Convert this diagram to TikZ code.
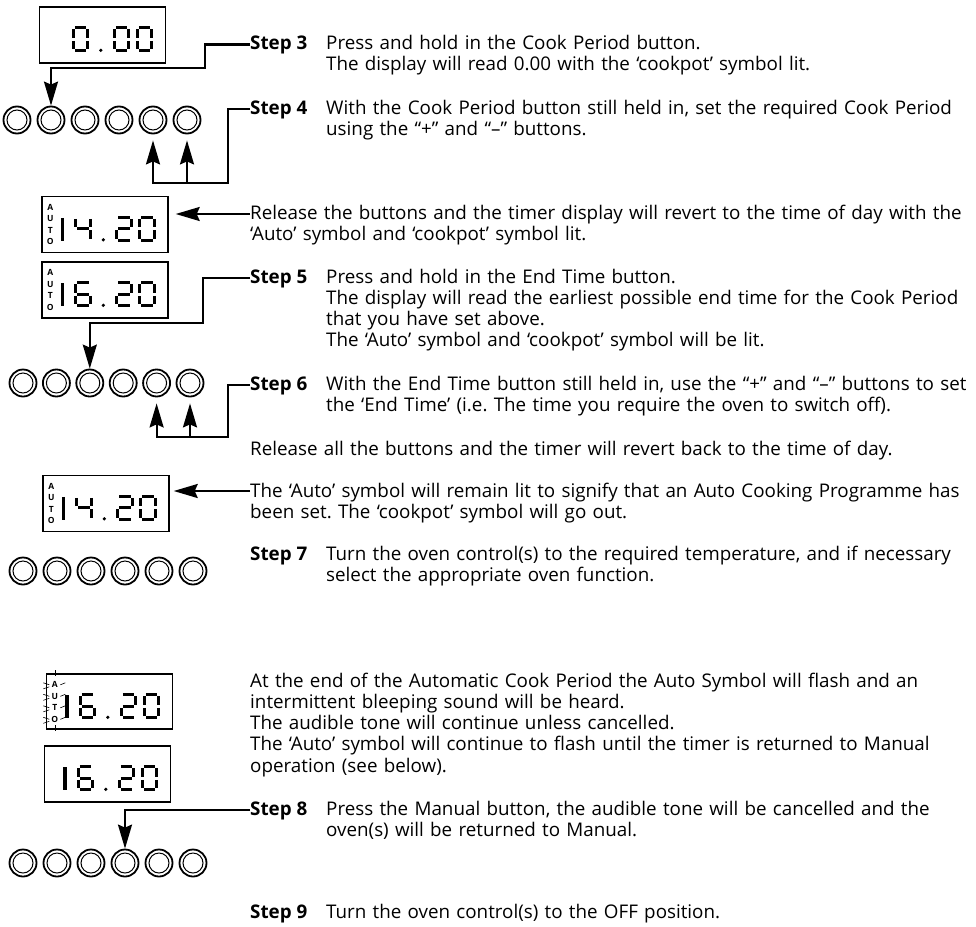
\documentclass[tikz,border=0pt]{standalone}
\usepackage{fontspec}
\setmainfont{Open Sans}
\usetikzlibrary{arrows.meta}
\frenchspacing

\newcommand\txtsize{\fontsize{18.8}{21.3}\selectfont}
\newcommand\lcddigit[1]{%
  \foreach \s in {#1}{%
    \if a\s\draw[seg] (3,1.5) -- (14.5,1.5);\fi
    \if b\s\draw[seg] (16,3) -- (16,11.5);\fi
    \if c\s\draw[seg] (16,14.5) -- (16,23);\fi
    \if d\s\draw[seg] (3,24.5) -- (14.5,24.5);\fi
    \if e\s\draw[seg] (1.5,14.5) -- (1.5,23);\fi
    \if f\s\draw[seg] (1.5,3) -- (1.5,11.5);\fi
    \if g\s\draw[seg] (3,13) -- (14.5,13);\fi
  }}
\newcommand\lcdcell[3]{\begin{scope}[shift={(#1.north west)},shift={(#2,20)}]\lcddigit{#3}\end{scope}}
\newcommand\lcdone[1]{\draw[seg,line width=3.5pt] ([shift={(21,22)}]#1.north west) -- ++(0,23);}
\newcommand\lcddot[1]{\fill ([shift={(62,44)}]#1.north west) circle (1.8pt);}
\newcommand\autolbl[1]{\foreach \l [count=\k] in {A,U,T,O}
  \node[autotxt] (#1\l) at ([shift={(9,11.5*\k)}]#1.north west) {\l};}

\tikzset{
  conn/.style={line width=2.2pt},
  tip/.style={-{Stealth[length=24pt,width=14pt,inset=3pt]}},
  lcd/.style={draw, line width=1.4pt, minimum width=126pt, minimum height=56pt, inner sep=0pt},
  btn/.style={circle, draw, line width=1.8pt, minimum size=27pt, inner sep=0pt,
    path picture={\draw[line width=1pt] (path picture bounding box.center) circle (10pt);}},
  seg/.style={line width=3.2pt},
  ray/.style={line width=0.6pt},
  autotxt/.style={font=\fontsize{8.5}{8.5}\selectfont\bfseries, inner sep=0pt},
  steplbl/.style={font=\txtsize\bfseries, inner sep=0pt, anchor=base west},
  body/.style={font=\txtsize, inner sep=0pt, anchor=base west, align=left, text width=730pt},
}

\begin{document}
\begin{tikzpicture}[x=1pt,y=-1pt]
    \useasboundingbox (0,0) rectangle (976,926);

    \node[lcd] (d1) at (102.5,35) {};
    \node[lcd] (d2) at (105,224.5) {};
    \node[lcd] (d3) at (105,290) {};
    \node[lcd] (d4) at (106,503.5) {};
    \node[lcd, minimum height=55pt] (d5) at (109.5,701.5) {};
    \node[lcd] (d6) at (107.5,774) {};

    \lcdcell{d1}{33}{a,b,c,d,e,f} \lcddot{d1}
    \lcdcell{d1}{74}{a,b,c,d,e,f} \lcdcell{d1}{97}{a,b,c,d,e,f}

    \autolbl{d2} \lcdone{d2} \lcdcell{d2}{33}{f,g,b,c} \lcddot{d2}
    \lcdcell{d2}{74}{a,b,g,e,d} \lcdcell{d2}{97}{a,b,c,d,e,f}

    \autolbl{d3} \lcdone{d3} \lcdcell{d3}{33}{a,f,g,e,d,c} \lcddot{d3}
    \lcdcell{d3}{74}{a,b,g,e,d} \lcdcell{d3}{97}{a,b,c,d,e,f}

    \autolbl{d4} \lcdone{d4} \lcdcell{d4}{33}{f,g,b,c} \lcddot{d4}
    \lcdcell{d4}{74}{a,b,g,e,d} \lcdcell{d4}{97}{a,b,c,d,e,f}

    \autolbl{d5} \lcdone{d5} \lcdcell{d5}{33}{a,f,g,e,d,c} \lcddot{d5}
    \lcdcell{d5}{74}{a,b,g,e,d} \lcdcell{d5}{97}{a,b,c,d,e,f}
    \foreach \k in {1,2,3,4} {
        \draw[ray] ([shift={(3.5,11.5*\k)}]d5.north west) -- ++(-6,-2);
        \draw[ray] ([shift={(3.5,11.5*\k+2)}]d5.north west) -- ++(-6,2);
        \draw[ray] ([shift={(14.5,11.5*\k)}]d5.north west) -- ++(5,-2);
    }
    \draw[ray] ([shift={(9,-3)}]d5.north west) -- ++(0,6);
    \draw[ray] ([shift={(9,52)}]d5.north west) -- ++(0,6);

    \lcdone{d6} \lcdcell{d6}{33}{a,f,g,e,d,c} \lcddot{d6}
    \lcdcell{d6}{74}{a,b,g,e,d} \lcdcell{d6}{97}{a,b,c,d,e,f}

    \foreach \i in {1,...,6} {
        \node[btn] (b1\i) at ({17+34*(\i-1)},120) {};
        \node[btn] (b2\i) at ({23+33.4*(\i-1)},383) {};
        \node[btn] (b3\i) at ({23+34*(\i-1)},571) {};
        \node[btn] (b4\i) at ({23+34*(\i-1)},863) {};
    }

    \node[steplbl] (s3) at (250,49.5) {Step 3};
    \node[body] (t3) at (326,49.5) {Press and hold in the Cook Period button.\\
        The display will read 0.00 with the ‘cookpot’ symbol lit.};
    \node[steplbl] (s4) at (250,114) {Step 4};
    \node[body] (t4) at (326,114) {With the Cook Period button still held in, set the required Cook Period\\
        using the “+” and “–” buttons.};
    \node[body] (r1) at (250,219) {Release the buttons and the timer display will revert to the time of day with the\\
        ‘Auto’ symbol and ‘cookpot’ symbol lit.};
    \node[steplbl] (s5) at (250,283) {Step 5};
    \node[body] (t5) at (326,283) {Press and hold in the End Time button.\\
        The display will read the earliest possible end time for the Cook Period\\
        that you have set above.\\
        The ‘Auto’ symbol and ‘cookpot’ symbol will be lit.};
    \node[steplbl] (s6) at (250,390) {Step 6};
    \node[body] (t6) at (326,390) {With the End Time button still held in, use the “+” and “–” buttons to set\\
        the ‘End Time’ (i.e. The time you require the oven to switch off).};
    \node[body] (r2) at (250,455) {Release all the buttons and the timer will revert back to the time of day.};
    \node[body] (r3) at (250,497) {The ‘Auto’ symbol will remain lit to signify that an Auto Cooking Programme has\\
        been set. The ‘cookpot’ symbol will go out.};
    \node[steplbl] (s7) at (250,560) {Step 7};
    \node[body] (t7) at (326,560) {Turn the oven control(s) to the required temperature, and if necessary\\
        select the appropriate oven function.};
    \node[body] (r4) at (250,687) {At the end of the Automatic Cook Period the Auto Symbol will flash and an\\
        intermittent bleeping sound will be heard.\\
        The audible tone will continue unless cancelled.\\
        The ‘Auto’ symbol will continue to flash until the timer is returned to Manual\\
        operation (see below).};
    \node[steplbl] (s8) at (250,815) {Step 8};
    \node[body] (t8) at (326,815) {Press the Manual button, the audible tone will be cancelled and the\\
        oven(s) will be returned to Manual.};
    \node[steplbl] (s9) at (250,918) {Step 9};
    \node[body] (t9) at (326,918) {Turn the oven control(s) to the OFF position.};

    \coordinate (k3) at (205,68);
    \coordinate (k4) at (228,183);
    \coordinate (k5) at (203,323);
    \coordinate (k6) at (228,437);
    \coordinate (e3) at ([yshift=5pt]s3.base west);
    \coordinate (e4) at ([yshift=5pt]s4.base west);
    \coordinate (e5) at ([yshift=5pt]s5.base west);
    \coordinate (e6) at ([yshift=5pt]s6.base west);
    \coordinate (e8) at ([yshift=5pt]s8.base west);
    \coordinate (f1) at ([yshift=5pt]r1.base west);
    \coordinate (f3) at ([yshift=6pt]r3.base west);

    \draw[conn,tip] (e3) -| (k3) -| (b12.north);
    \draw[conn,tip,shorten >=6pt] (e4) -| (k4) -| (b15.south);
    \draw[conn,tip,shorten >=6pt] (b16.south |- k4) -- (b16.south);
    \draw[conn,tip,shorten >=7pt] (f1) -- (d2.east |- f1);
    \draw[conn,tip] (e5) -| (k5) -| (b23.north);
    \draw[conn,tip,shorten >=6pt] (e6) -| (k6) -| (b25.south);
    \draw[conn,tip,shorten >=6pt] (b26.south |- k6) -- (b26.south);
    \draw[conn,tip,shorten >=4pt] (f3) -- (d4.east |- f3);
    \draw[conn,tip] (e8) -| (b44.north);
\end{tikzpicture}
\end{document}
